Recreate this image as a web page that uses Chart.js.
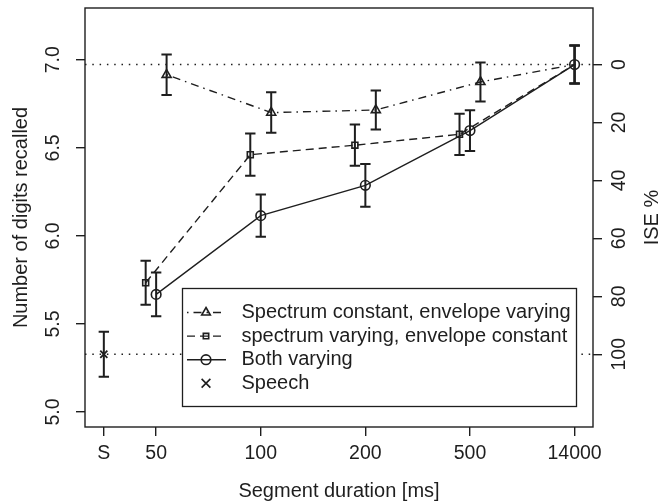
<!DOCTYPE html>
<html><head><meta charset="utf-8">
<script src="https://cdn.jsdelivr.net/npm/chart.js@4.4.1/dist/chart.umd.min.js"></script>
<style>html,body{margin:0;padding:0;background:#fff}#wrap{width:665px;height:502px}</style>
</head><body><div id="wrap"><canvas id="c" width="665" height="502"></canvas></div>
<script>
// ---- data ----
const categories = ['S', '50', '100', '200', '500', '14000'];
const spectrumConstant = [6.915, 6.700, 6.715, 6.874, 6.973];
const spectrumConstantErr = [0.115, 0.115, 0.111, 0.111, 0.108];
const spectrumVarying = [5.734, 6.461, 6.515, 6.577, 6.973];
const spectrumVaryingErr = [0.125, 0.120, 0.117, 0.117, 0.108];
const bothVarying = [5.668, 6.115, 6.287, 6.598, 6.973];
const bothVaryingErr = [0.124, 0.120, 0.121, 0.116, 0.108];
const speech = [5.328];
const speechErr = [0.128];
const leftTicks = [5.0, 5.5, 6.0, 6.5, 7.0];
const rightTicks = [0, 20, 40, 60, 80, 100];
const seriesNames = ['Spectrum constant, envelope varying', 'spectrum varying, envelope constant', 'Both varying', 'Speech'];

// ---- layout / style ----
const INK = '#1e1e1e';
const FONT = '"Liberation Sans", Arial, Helvetica, sans-serif';
const Y_MIN = 4.915, Y_MAX = 7.294;
const X_MIN = -0.68, X_MAX = 4.176;
const catPos = categories.map((c, i) => i === 0 ? -0.5 : i - 1);
const refLevel = bothVarying[bothVarying.length - 1];
const speechLevel = speech[0];
const iseOf = v => (refLevel - v) / (refLevel - speechLevel) * 100;

function points(vals, off) {
  return vals.map((v, i) => ({ x: catPos[i + 1] + (i === vals.length - 1 ? 0 : off), y: v }));
}
const errs = [spectrumConstantErr, spectrumVaryingErr, bothVaryingErr, speechErr];
const dashes = [[1.5, 5, 8, 5], [8, 5], [], []];
const legendRadius = [5, 3.8, 4.8, 6.2];

const data = {
  datasets: [
    { label: seriesNames[0], data: points(spectrumConstant, 0.1), borderColor: INK, borderWidth: 1.4,
      borderDash: dashes[0], pointStyle: 'triangle', pointRadius: [5.2, 5.2, 5.2, 5.2, 0],
      pointBorderWidth: 1.6, pointBorderColor: INK, pointBackgroundColor: 'rgba(0,0,0,0)', fill: false, tension: 0 },
    { label: seriesNames[1], data: points(spectrumVarying, -0.1), borderColor: INK, borderWidth: 1.4,
      borderDash: dashes[1], pointStyle: 'rect', pointRadius: [4.2, 4.2, 4.2, 4.2, 0],
      pointBorderWidth: 1.6, pointBorderColor: INK, pointBackgroundColor: 'rgba(0,0,0,0)', fill: false, tension: 0 },
    { label: seriesNames[2], data: points(bothVarying, 0), borderColor: INK, borderWidth: 1.4,
      pointStyle: 'circle', pointRadius: 4.8,
      pointBorderWidth: 1.6, pointBorderColor: INK, pointBackgroundColor: 'rgba(0,0,0,0)', fill: false, tension: 0 },
    { label: seriesNames[3], data: speech.map(v => ({ x: catPos[0], y: v })), showLine: false,
      pointStyle: 'crossRot', pointRadius: 5, pointBorderWidth: 1.8, pointBorderColor: INK, borderColor: INK }
  ]
};

const decor = {
  id: 'decor',
  beforeDatasetsDraw(chart) {
    const { ctx, chartArea: a, scales: { x, y } } = chart;
    ctx.save();
    ctx.strokeStyle = INK; ctx.lineWidth = 1.5; ctx.setLineDash([1.5, 5.8]);
    [refLevel, speechLevel].forEach(v => {
      const py = y.getPixelForValue(v);
      ctx.beginPath(); ctx.moveTo(a.left, py); ctx.lineTo(a.right, py); ctx.stroke();
    });
    ctx.restore();
  },
  afterDatasetsDraw(chart) {
    const { ctx, chartArea: a, scales: { x, y, y2 } } = chart;
    ctx.save();
    // error bars
    ctx.strokeStyle = INK; ctx.lineWidth = 2; ctx.setLineDash([]);
    chart.data.datasets.forEach((ds, di) => {
      ds.data.forEach((p, j) => {
        const e = errs[di][j];
        const px = x.getPixelForValue(p.x);
        const t = y.getPixelForValue(p.y + e), b = y.getPixelForValue(p.y - e);
        ctx.beginPath();
        ctx.moveTo(px, t); ctx.lineTo(px, b);
        ctx.moveTo(px - 5.2, t); ctx.lineTo(px + 5.2, t);
        ctx.moveTo(px - 5.2, b); ctx.lineTo(px + 5.2, b);
        ctx.stroke();
      });
    });
    // box
    ctx.lineWidth = 1.4;
    ctx.strokeRect(a.left, a.top, a.right - a.left, a.bottom - a.top);
    // tick labels
    ctx.fillStyle = INK;
    ctx.font = '19.5px ' + FONT;
    ctx.textAlign = 'center'; ctx.textBaseline = 'middle';
    categories.forEach((c, i) => ctx.fillText(c, x.getPixelForValue(catPos[i]), a.bottom + 27));
    leftTicks.forEach(v => {
      ctx.save(); ctx.translate(a.left - 31.5, y.getPixelForValue(v)); ctx.rotate(-Math.PI / 2);
      ctx.fillText(v.toFixed(1), 0, 0); ctx.restore();
    });
    rightTicks.forEach(v => {
      ctx.save(); ctx.translate(a.right + 27, y2.getPixelForValue(v)); ctx.rotate(-Math.PI / 2);
      ctx.fillText(String(v), 0, 0); ctx.restore();
    });
    // titles
    ctx.font = '20px ' + FONT;
    const cy = (a.top + a.bottom) / 2;
    ctx.fillText('Segment duration [ms]', (a.left + a.right) / 2, a.bottom + 64);
    ctx.save(); ctx.translate(21, cy); ctx.rotate(-Math.PI / 2); ctx.fillText('Number of digits recalled', 0, 0); ctx.restore();
    ctx.save(); ctx.translate(a.right + 59, cy); ctx.rotate(-Math.PI / 2); ctx.fillText('ISE %', 0, 0); ctx.restore();
    // legend
    const L = 182.5, T = 288.5, W = 394, H = 118;
    ctx.fillStyle = '#fff'; ctx.fillRect(L, T, W, H);
    ctx.strokeStyle = INK; ctx.lineWidth = 1.3; ctx.strokeRect(L, T, W, H);
    const sx = 206;
    chart.data.datasets.forEach((ds, i) => {
      const ry = 312.5 + i * 23.6;
      ctx.strokeStyle = INK;
      if (i < 3) {
        ctx.save(); ctx.lineWidth = 1.4; ctx.setLineDash(dashes[i]);
        ctx.beginPath(); ctx.moveTo(sx - 19, ry); ctx.lineTo(sx + 20, ry); ctx.stroke(); ctx.restore();
      }
      ctx.save();
      ctx.fillStyle = 'rgba(0,0,0,0)'; ctx.lineWidth = 1.6; ctx.setLineDash([]);
      Chart.helpers.drawPoint(ctx, { pointStyle: ds.pointStyle, radius: legendRadius[i], borderWidth: 1.6, rotation: 0 }, sx, ry);
      ctx.restore();
      ctx.fillStyle = INK; ctx.textAlign = 'left'; ctx.font = '20px ' + FONT;
      ctx.fillText(seriesNames[i], 241.5, ry);
      ctx.textAlign = 'center';
    });
    ctx.restore();
  }
};

const tickOnlyGrid = { drawOnChartArea: false, drawTicks: true, tickLength: 9, color: INK, lineWidth: 1.4 };

new Chart(document.getElementById('c'), {
  type: 'line',
  data,
  options: {
    responsive: false, animation: false, devicePixelRatio: 1,
    layout: { padding: { top: 8, left: 0, right: 0, bottom: 0 } },
    plugins: { legend: { display: false }, tooltip: { enabled: false } },
    scales: {
      x: { type: 'linear', min: X_MIN, max: X_MAX, grid: tickOnlyGrid, border: { display: false },
        ticks: { display: false },
        afterBuildTicks: s => { s.ticks = catPos.map(v => ({ value: v })); },
        afterFit: s => { s.height = 75; } },
      y: { type: 'linear', position: 'left', min: Y_MIN, max: Y_MAX, grid: tickOnlyGrid, border: { display: false },
        ticks: { display: false },
        afterBuildTicks: s => { s.ticks = leftTicks.map(v => ({ value: v })); },
        afterFit: s => { s.width = 85; } },
      y2: { type: 'linear', position: 'right', reverse: true, min: iseOf(Y_MAX), max: iseOf(Y_MIN),
        grid: tickOnlyGrid, border: { display: false }, ticks: { display: false },
        afterBuildTicks: s => { s.ticks = rightTicks.map(v => ({ value: v })); },
        afterFit: s => { s.width = 72; } }
    }
  },
  plugins: [decor]
});
</script></body></html>
